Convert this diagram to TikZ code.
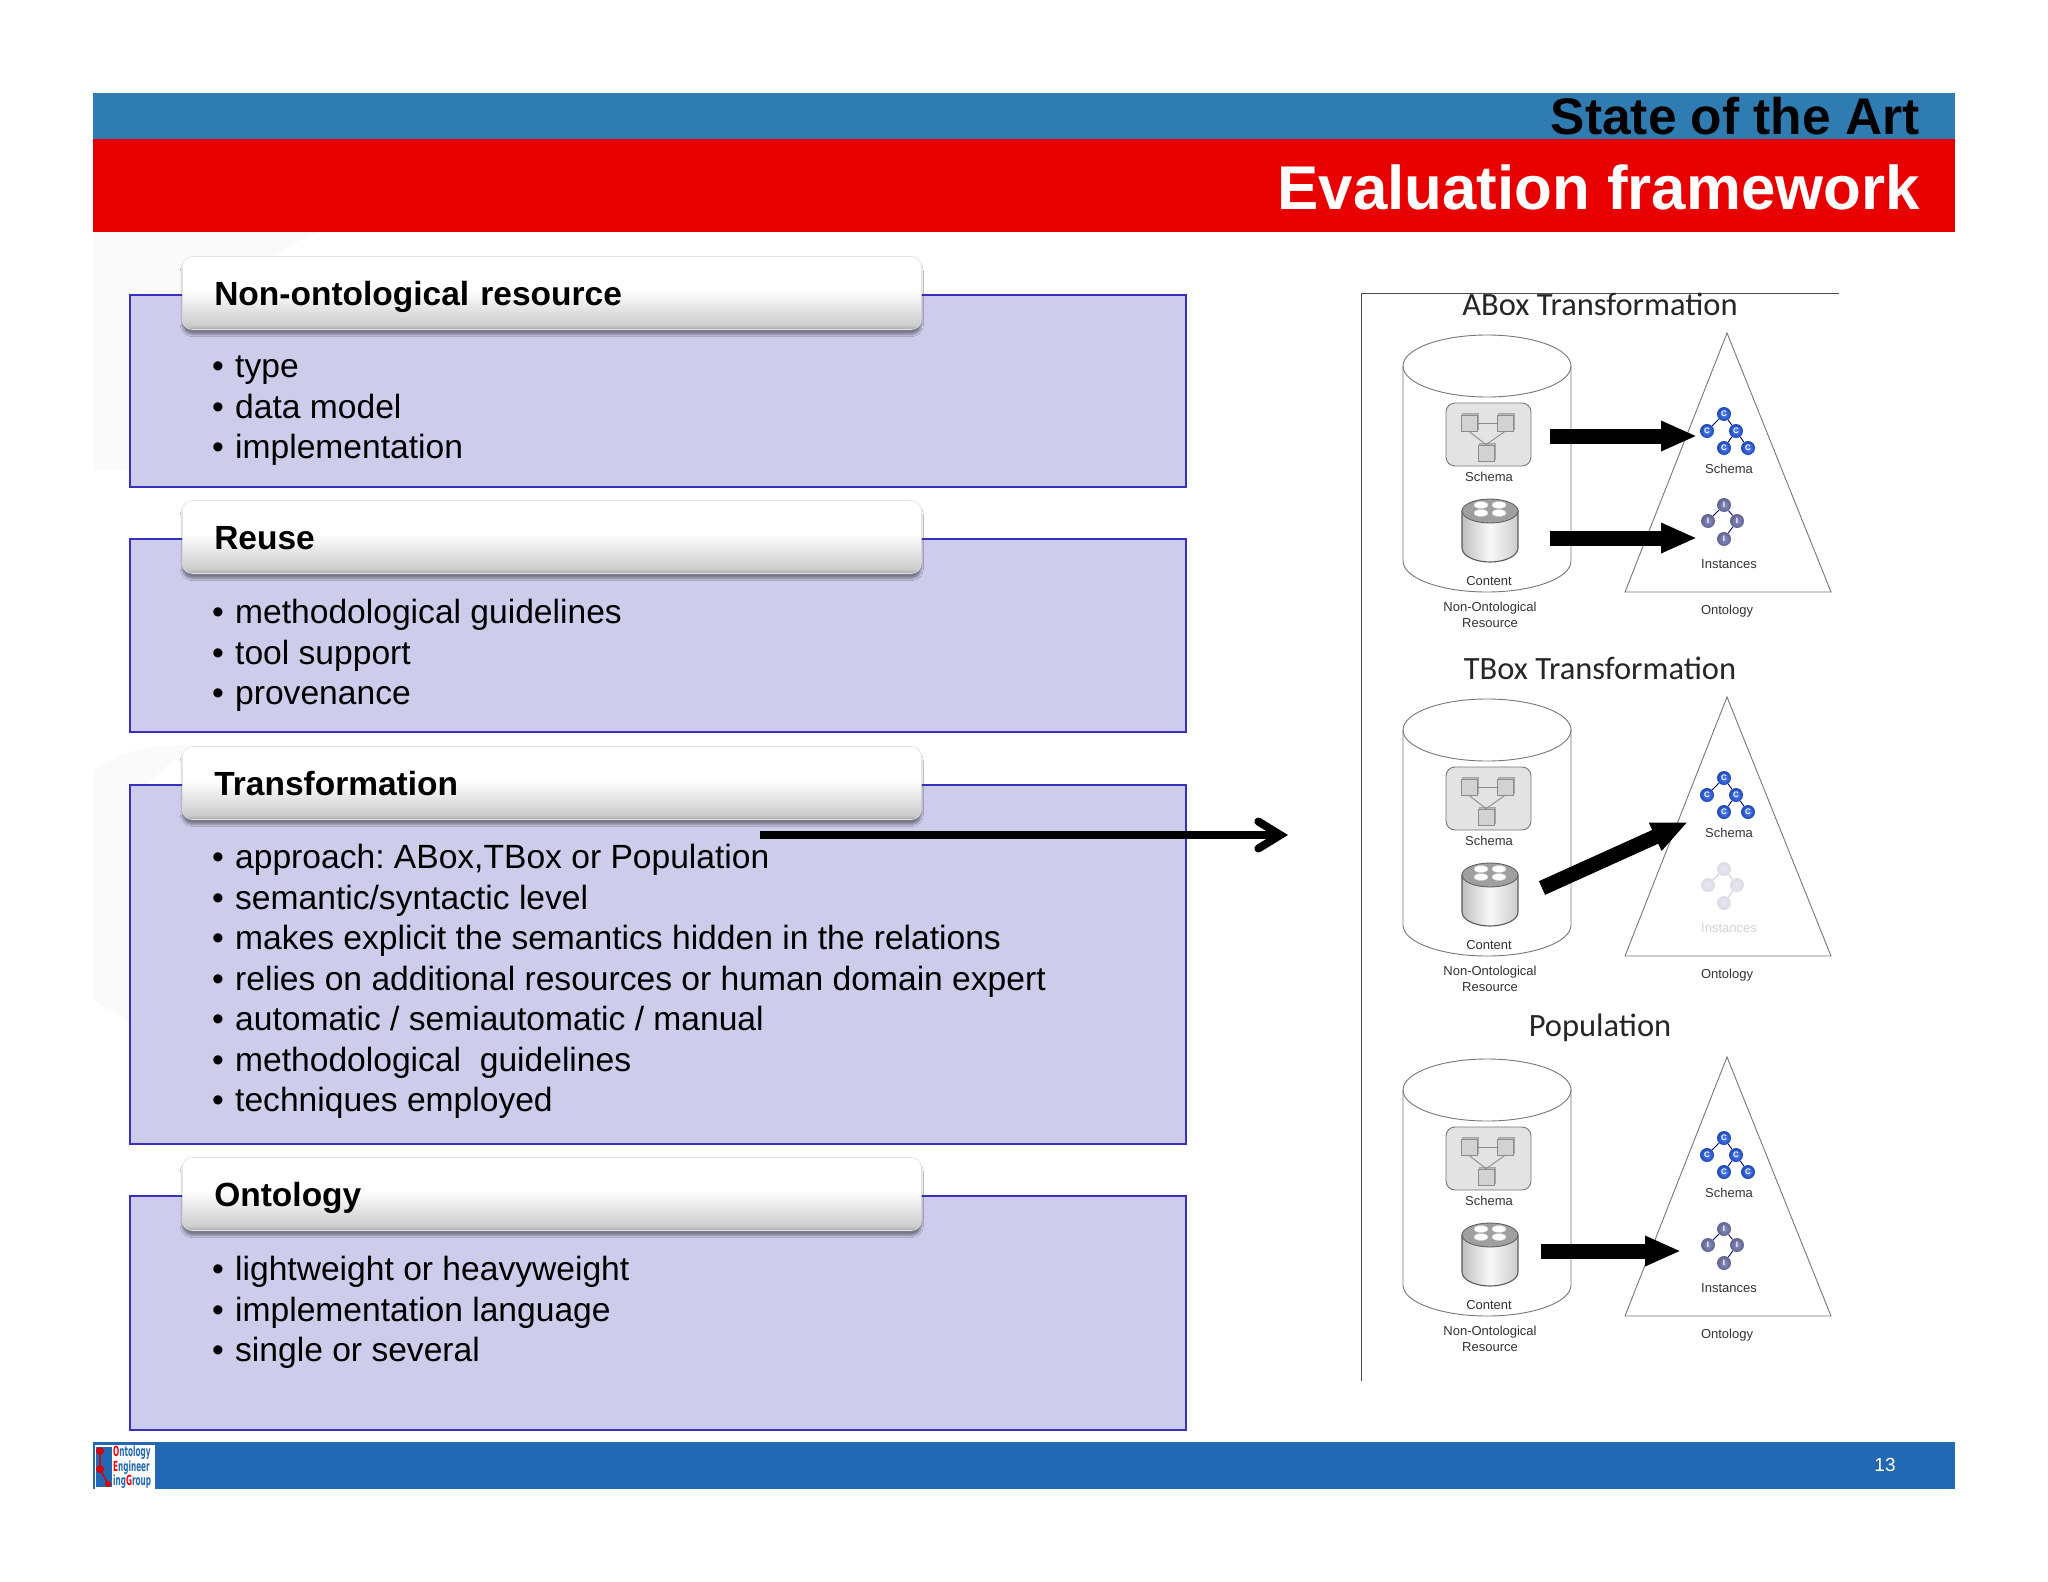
\documentclass[tikz,border=0pt]{standalone}
\usepackage{fontspec}
\setmainfont{Liberation Sans}
\newfontfamily\calibrifont{Carlito}
\newfontfamily\logofont{DejaVu Sans}
\usetikzlibrary{shapes.geometric, arrows.meta, positioning, shadows, shadows.blur}
\definecolor{topblue}{HTML}{2F7CB2}
\definecolor{topred}{HTML}{E80000}
\definecolor{footblue}{HTML}{2368B2}
\definecolor{boxfill}{HTML}{CDCCEB}
\definecolor{boxline}{HTML}{3A30C0}
\definecolor{labelgray}{HTML}{333333}
\definecolor{outline}{HTML}{777777}
\definecolor{classblue}{HTML}{2A66FF}
\definecolor{instblue}{HTML}{8A8EC8}
\pgfdeclareverticalshading{headshade}{100bp}{color(0bp)=(gray!70); color(25bp)=(gray!70);
  color(28bp)=(gray!40); color(52bp)=(white); color(100bp)=(white)}
\newcommand{\itm}[1]{\makebox[23pt][l]{\textbullet}#1}
\tikzset{
  secbox/.style={rectangle, draw=boxline, line width=1.6pt, fill=boxfill,
                 minimum width=1056pt, anchor=north west},
  sechead/.style={rectangle, rounded corners=10pt, anchor=west, draw=gray!22, line width=.6pt,
                  minimum width=739pt, minimum height=73pt, yshift=1pt,
                  text width=675pt, inner xsep=32pt, align=left, shading=headshade,
                  text height=28pt, text depth=4pt,
                  font=\fontsize{33.5}{38}\selectfont\bfseries,
                  blur shadow={shadow xshift=0pt, shadow yshift=-5pt, shadow blur steps=6}},
  secitems/.style={anchor=north west, inner sep=0pt, align=left,
                   font=\fontsize{33.6}{40.5}\selectfont\frenchspacing, text=black},
  smalltxt/.style={font=\fontsize{13}{16}\selectfont, text=labelgray, align=center, inner sep=0pt},
  paneltitle/.style={font=\fontsize{32.5}{36}\selectfont\calibrifont, text=black!85, inner sep=0pt},
  storeline/.style={draw=outline, line width=.9pt},
  iconbox/.style={rectangle, rounded corners=9pt, draw=outline, fill=gray!22, line width=.9pt,
                  minimum width=85pt, minimum height=63pt},
  cube/.style={rectangle, draw=gray!90, fill=gray!35, line width=.8pt, minimum size=16pt,
               inner sep=0pt, copy shadow={shadow xshift=1.5pt, shadow yshift=1.5pt, draw=gray!70, fill=gray!55}},
  cubelink/.style={draw=gray!90, line width=.9pt},
  dbcan/.style={draw=black!65, line width=1.1pt, left color=gray!50, right color=gray!40, middle color=gray!5},
  dbtop/.style={ellipse, fill=gray!75, draw=black!65, line width=.8pt, minimum width=56pt,
                minimum height=24pt, inner sep=0pt},
  dbdisk/.style={ellipse, fill=white, draw=gray!40, line width=.4pt, minimum width=14pt,
                 minimum height=7pt, inner sep=0pt},
  classnode/.style={circle, inner color=classblue!80, outer color=classblue!70!black, text=white, inner sep=0pt,
                    minimum size=14pt, font=\fontsize{8}{8}\selectfont\bfseries},
  instnode/.style={classnode, inner color=instblue, outer color=instblue!70!black},
  treelink/.style={draw=black!30!blue!60!black, line width=.9pt},
  bigarrow/.style={line width=15pt, -{Triangle[length=36pt, width=28pt]}, black},
  bararrow/.style={line width=7.5pt, -{Straight Barb[length=22pt, width=27pt, line width=8pt, line cap=round, line join=miter]}, black},
}

\begin{document}
\begin{tikzpicture}[x=1pt, y=-1pt]
  \useasboundingbox (0,0) rectangle (2048,1582);
  \fill[white] (0,0) rectangle (2048,1582);

  % faint marks behind the sections
  \fill[black!2] (93,232) -- (320,232) .. controls (250,250) and (135,400) .. (129,470) -- (93,470) -- cycle;
  \fill[black!2] (93,770) .. controls (130,745) and (170,745) .. (190,745) -- (129,800) -- (129,1020) -- (93,1000) -- cycle;

  % title bands
  \fill[topblue] (93,93) rectangle (1955,139);
  \fill[topred] (93,139) rectangle (1955,232);
  \node[anchor=east, inner sep=0pt, font=\fontsize{51.5}{51}\selectfont\bfseries, text=black] (maintitle) at (1920,116.5) {State of the Art};
  \node[anchor=east, inner sep=0pt, font=\fontsize{61.8}{64}\selectfont\bfseries, text=white] (subtitle) at (1920,187) {Evaluation framework};

  % sections on the left
  \node[secbox, minimum height=192pt] (resbox) at (129,294) {};
  \node[sechead] (reshead) at ([xshift=53pt]resbox.north west) {Non-ontological resource};
  \node[secitems] (resitems) at (212,356) {\itm{type}\\\itm{data model}\\\itm{implementation}};

  \node[secbox, minimum height=193pt] (reusebox) at (129,538) {};
  \node[sechead] (reusehead) at ([xshift=53pt]reusebox.north west) {Reuse};
  \node[secitems] (reuseitems) at (212,599) {\itm{methodological guidelines}\\\itm{tool support}\\\itm{provenance}};

  \node[secbox, minimum height=359pt] (transbox) at (129,784) {};
  \node[sechead] (transhead) at ([xshift=53pt]transbox.north west) {Transformation};
  \node[secitems] (transitems) at (212,844) {\itm{approach: ABox,TBox or Population}\\\itm{semantic/syntactic level}\\\itm{makes explicit the semantics hidden in the relations}\\\itm{relies on additional resources or human domain expert}\\\itm{automatic / semiautomatic / manual}\\\itm{methodological\ \ guidelines}\\\itm{techniques employed}};

  \node[secbox, minimum height=234pt] (ontobox) at (129,1195) {};
  \node[sechead] (ontohead) at ([xshift=53pt]ontobox.north west) {Ontology};
  \node[secitems] (ontoitems) at (212,1256) {\itm{lightweight or heavyweight}\\\itm{implementation language}\\\itm{single or several}};

  % frame of the panels
  \coordinate (framea) at (1361,1381);
  \coordinate (frameb) at (1361,293);
  \coordinate (framec) at (1839,293);
  \draw[black!70, line width=1pt] (framea) -- (frameb) -- (framec);

  \foreach \dy/\n/\ttl/\fade in {0/a/ABox Transformation/1, 364/t/TBox Transformation/.22, 724/p/Population/1}{
    \begin{scope}[yshift=-\dy pt]
      \node[paneltitle] (title\n) at (1600,304) {\ttl};
      \draw[storeline] (1487,366) ellipse [x radius=84pt, y radius=31pt];
      \draw[storeline] (1403,366) -- (1403,561) arc [start angle=180, end angle=360, x radius=84pt, y radius=31pt] -- (1571,366);
      \draw[outline, line width=.9pt] (1625,592) -- (1727,333) -- (1831,592) -- cycle;
      \node[iconbox] (icon\n) at (1488.5,434.5) {};
      \node[cube] (cubea\n) at (1469,423) {};
      \node[cube] (cubeb\n) at (1505,423) {};
      \node[cube] (cubec\n) at (1486,453) {};
      \draw[cubelink] (cubea\n) -- (cubeb\n);
      \draw[cubelink] (cubea\n.south) -- (cubec\n.north);
      \draw[cubelink] (cubeb\n.south) -- (cubec\n.north);
      \node[smalltxt] (schemalbl\n) at (1489,477) {Schema};
      \path[dbcan] (1462,511) -- (1462,548) arc [start angle=180, end angle=360, x radius=28pt, y radius=14pt] -- (1518,511) -- cycle;
      \node[dbtop] (dbtop\n) at (1490,511) {};
      \node[dbdisk] at (1481,505) {};
      \node[dbdisk] at (1499,505) {};
      \node[dbdisk] at (1481,513) {};
      \node[dbdisk] at (1499,513) {};
      \node[smalltxt] (contentlbl\n) at (1489,581) {Content};
      \node[smalltxt] (storelbl\n) at (1490,614.5) {Non-Ontological\\Resource};
      \node[classnode] (ca\n) at (1724,414) {C};
      \node[classnode] (cb\n) at (1707,431) {C};
      \node[classnode] (cc\n) at (1736,431) {C};
      \node[classnode] (cd\n) at (1724,448) {C};
      \node[classnode] (ce\n) at (1748,448) {C};
      \draw[treelink] (ca\n) -- (cb\n) (ca\n) -- (cc\n) (cc\n) -- (cd\n) (cc\n) -- (ce\n);
      \node[smalltxt] (classlbl\n) at (1729,469) {Schema};
      \begin{scope}[opacity=\fade]
        \node[instnode] (ia\n) at (1724,505) {I};
        \node[instnode] (ib\n) at (1708,521) {I};
        \node[instnode] (ic\n) at (1737,521) {I};
        \node[instnode] (id\n) at (1724,539) {I};
        \draw[treelink] (ia\n) -- (ib\n) (ia\n) -- (ic\n) (ic\n) -- (id\n);
        \node[smalltxt] (instlbl\n) at (1729,564) {Instances};
      \end{scope}
      \node[smalltxt] (ontolbl\n) at (1727,611) {Ontology};
    \end{scope}
  }

  % arrows between the stores and the ontologies
  \coordinate (aschema) at (1550,436);
  \coordinate (aclass) at (1697,436);
  \coordinate (acontent) at (1550,538);
  \coordinate (ainst) at (1697,538);
  \coordinate (tcontent) at (1542,888);
  \coordinate (tclass) at (1688,822);
  \coordinate (pcontent) at (1541,1251);
  \coordinate (pinst) at (1681,1251);
  \draw[bigarrow] (aschema) -- (aclass);
  \draw[bigarrow] (acontent) -- (ainst);
  \draw[bigarrow] (tcontent) -- (tclass);
  \draw[bigarrow] (pcontent) -- (pinst);

  % from the approach item to the panels
  \coordinate (approach) at (760,835);
  \coordinate (panels) at (1288,835);
  \draw[bararrow] (approach) -- (panels);

  % foot band
  \fill[footblue] (93,1442) rectangle (1955,1489);
  \fill[white] (95,1445) rectangle (155,1489);
  \fill[footblue] (96,1447) rectangle (112,1487);
  \fill[red!85!black] (100,1451) circle (4pt) (100,1469) circle (4pt) (108,1484) circle (3pt);
  \draw[red!85!black, line width=1.5pt] (100,1451) -- (100,1469) -- (108,1484);
  \node[inner sep=0pt, align=left, anchor=west, text=footblue,
        font=\fontsize{14}{13.5}\selectfont\logofont\bfseries] (logotext) at (113,1467.5)
       {\scalebox{.52}[1]{\textcolor{red}{O}ntology}\\\scalebox{.52}[1]{\textcolor{red}{E}ngineer}\\\scalebox{.52}[1]{ing\textcolor{red}{G}roup}};
  \node[inner sep=0pt, text=white, font=\fontsize{19}{19}\selectfont] (pagenum) at (1885,1465) {13};
\end{tikzpicture}
\end{document}
